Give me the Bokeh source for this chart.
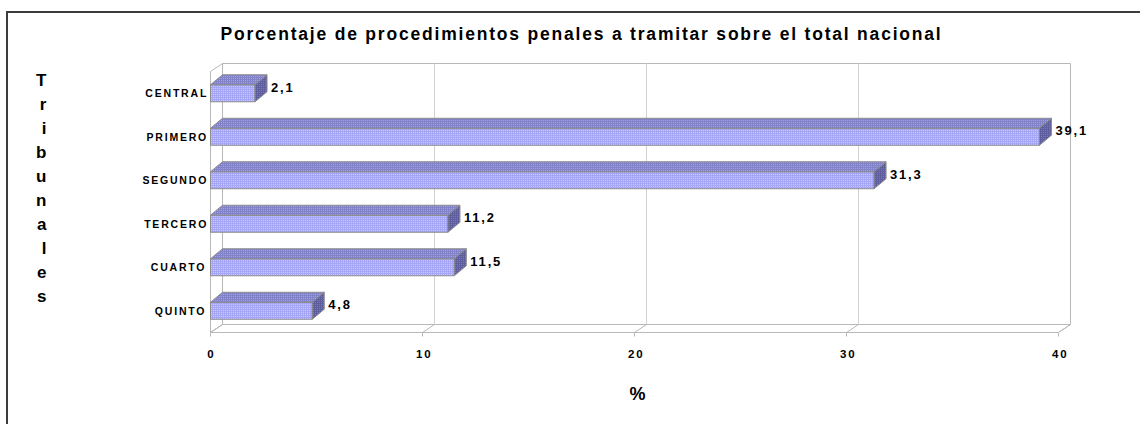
from bokeh.plotting import figure
from bokeh.models import (Range1d, FixedTicker, ColumnDataSource, LabelSet, Title,
                          InlineStyleSheet, LinearAxis)
from bokeh.core.properties import value
from bokeh.embed import file_html
from bokeh.resources import INLINE

# ---------------- data ----------------
categories = ["CENTRAL", "PRIMERO", "SEGUNDO", "TERCERO", "CUARTO", "QUINTO"]
values = [2.1, 39.1, 31.3, 11.2, 11.5, 4.8]
x_ticks = [0, 10, 20, 30, 40]
title_text = "Porcentaje de procedimientos penales a tramitar sobre el total nacional"
x_title = "%"
y_title = "Tribunales"

# ---------------- geometry (pixel based 3D look) ----------------
PX = 21.2     # pixels per x unit
PY = 43.5     # pixels per category
DX = 12 / PX  # wall depth (x units)
DY = 8 / PY   # wall depth (y units)
BDX = 12 / PX # bar depth
BDY = 10 / PY
BH = 17 / PY  # bar front-face height

n = len(categories)
xmax = x_ticks[-1]
ys = [n - 0.5 - i for i in range(n)]

FONT = "Liberation Sans"

# canvas origin on page: (8, 13); frame: x 209..1142, y 44..332
p = figure(width=1134, height=413,
           x_range=Range1d(-1 / PX, (1142 - 210) / PX),
           y_range=Range1d(0, (332 - 44) / PY),
           output_backend="svg", toolbar_location=None,
           min_border_left=201, min_border_right=0,
           min_border_top=31, min_border_bottom=94,
           background_fill_color="white", border_fill_color="white")
p.styles = {"border-left": "2px solid #3c3c3c", "border-top": "2px solid #3c3c3c",
            "margin-top": "11px", "margin-left": "6px"}
p.stylesheets = [InlineStyleSheet(css=":host { letter-spacing: 1.8px; }")]
p.outline_line_color = None
p.xgrid.grid_line_color = None
p.ygrid.grid_line_color = None

WALL = "#b8b8b8"
# back wall
p.quad(left=DX, right=xmax + DX, bottom=DY, top=n + DY,
       fill_color="white", line_color=WALL, line_width=1)
# back wall grid lines
p.segment(x0=[t + DX for t in x_ticks[1:-1]], y0=DY,
          x1=[t + DX for t in x_ticks[1:-1]], y1=n + DY,
          line_color="#d2d2d2", line_width=1)
# left wall
p.patch([0, DX, DX, 0], [0, DY, n + DY, n], fill_color="white",
        line_color=WALL, line_width=1)
# floor
p.patch([0, xmax, xmax + DX, DX], [0, 0, DY, DY], fill_color="white",
        line_color=WALL, line_width=1)
p.segment(x0=x_ticks, y0=0, x1=[t + DX for t in x_ticks], y1=DY,
          line_color=WALL, line_width=1)

# ---------------- bars ----------------
bot = [y - BH / 2 for y in ys]
top = [y + BH / 2 for y in ys]
EDGE = "#8c8c8c"
p.quad(left=0, right=values, bottom=bot, top=top,
       fill_color="#a6a6f6", line_color=EDGE, line_width=1,
       hatch_pattern="dot", hatch_color="white", hatch_alpha=0.55,
       hatch_scale=2, hatch_weight=1)
p.patches(xs=[[0, v, v + BDX, BDX] for v in values],
          ys=[[t, t, t + BDY, t + BDY] for t in top],
          fill_color="#8282c8", line_color=EDGE, line_width=1,
          hatch_pattern="dot", hatch_color="white", hatch_alpha=0.35,
          hatch_scale=2, hatch_weight=1)
p.patches(xs=[[v, v + BDX, v + BDX, v] for v in values],
          ys=[[b, b + BDY, t + BDY, t] for b, t in zip(bot, top)],
          fill_color="#5e5e9e", line_color=EDGE, line_width=1,
          hatch_pattern="dot", hatch_color="white", hatch_alpha=0.25,
          hatch_scale=2, hatch_weight=1)

# value labels
src = ColumnDataSource(dict(x=values, y=ys,
                            label=[f"{v:.1f}".replace(".", ",") for v in values]))
p.add_layout(LabelSet(x="x", y="y", text="label", source=src,
                      x_offset=16, y_offset=6,
                      text_align="left", text_baseline="middle",
                      text_font=value(FONT), text_font_style="bold",
                      text_font_size="13px", text_color="black"))

# ---------------- axes ----------------
xa = p.xaxis[0]
xa.ticker = FixedTicker(ticks=x_ticks)
xa.bounds = (0, xmax)
xa.axis_line_color = WALL
xa.major_tick_line_color = WALL
xa.major_tick_out = 4
xa.major_tick_in = 0
xa.minor_tick_line_color = None
xa.major_label_standoff = 13
xa.major_label_text_font = FONT
xa.major_label_text_font_style = "bold"
xa.major_label_text_font_size = "11.5px"
xa.major_label_text_color = "black"

ya = p.yaxis[0]
ya.ticker = FixedTicker(ticks=ys)
ya.major_label_overrides = {y: c for y, c in zip(ys, categories)}
ya.axis_line_color = None
ya.major_tick_line_color = None
ya.minor_tick_line_color = None
ya.major_label_standoff = 8
ya.major_label_text_font = FONT
ya.major_label_text_font_style = "bold"
ya.major_label_text_font_size = "10.5px"
ya.major_label_text_color = "black"

# vertical stacked axis title "Tribunales"
if "axis_label_orientation" in ya.properties():
    ya.axis_label = "\n".join(y_title)
    ya.axis_label_orientation = "horizontal"
    ya.axis_label_text_font = FONT
    ya.axis_label_text_font_style = "bold"
    ya.axis_label_text_font_size = "17px"
    ya.axis_label_text_line_height = 1.26
    ya.axis_label_text_color = "black"
    ya.axis_label_standoff = 93
else:
    letter_y = [(332 - (78 + 24 * k)) / PY for k in range(len(y_title))]
    la = LinearAxis(ticker=FixedTicker(ticks=letter_y),
                    major_label_overrides={y: ch for y, ch in zip(letter_y, y_title)},
                    axis_line_color=None, major_tick_line_color=None,
                    minor_tick_line_color=None, major_label_standoff=95,
                    major_label_text_font=FONT, major_label_text_font_style="bold",
                    major_label_text_font_size="17px", major_label_text_color="black")
    p.add_layout(la, "left")

# x axis title as a below title, placed under the 20 tick
p.add_layout(Title(text=x_title, align="left", offset=420, standoff=42,
                   text_font=FONT, text_font_style="bold", text_font_size="18px",
                   text_color="black"), "below")

# title
p.title.text = title_text
p.title.text_font = FONT
p.title.text_font_style = "bold"
p.title.text_font_size = "17.5px"
p.title.text_color = "black"
p.title.align = "left"
p.title.offset = 11
p.title.standoff = 2

open("out.html", "w").write(file_html(p, INLINE))
